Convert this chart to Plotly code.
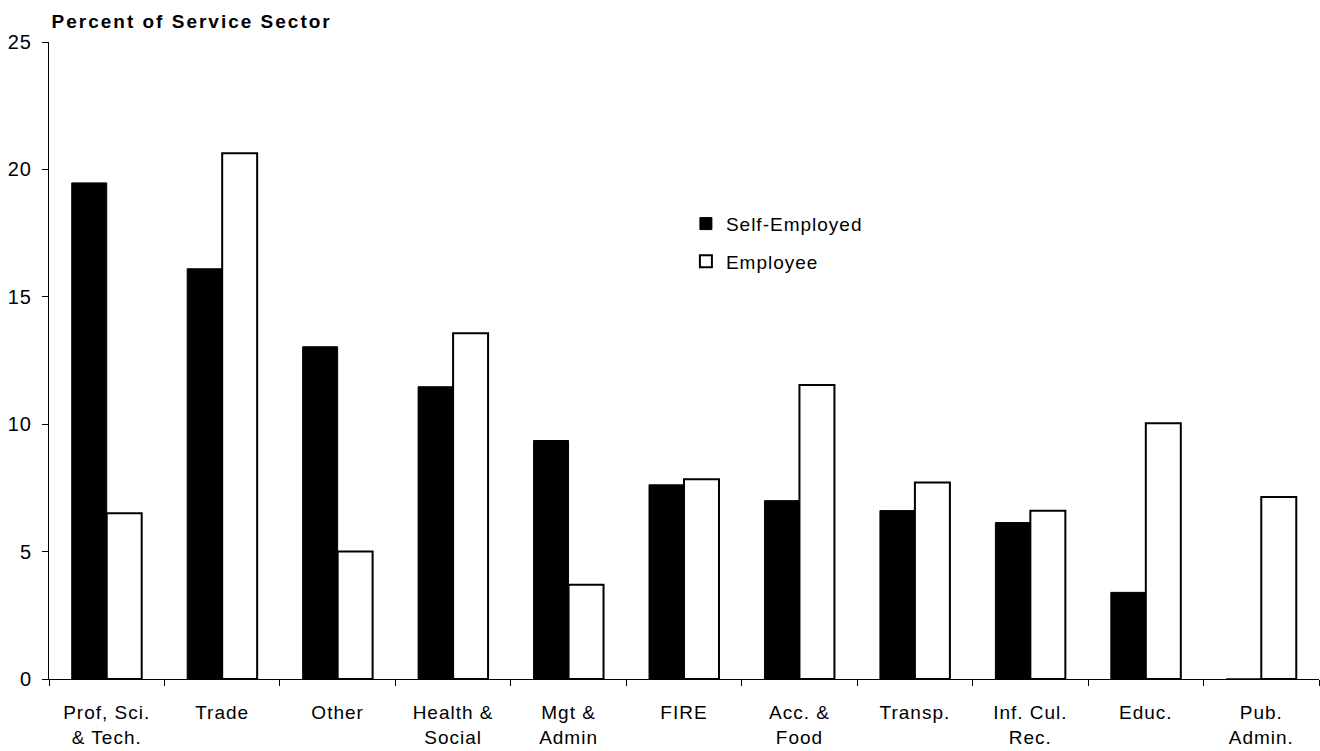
import plotly.graph_objects as go

# Share of service-sector workers by industry
categories = [
    "Prof, Sci.<br>& Tech.", "Trade", "Other", "Health &<br>Social", "Mgt &<br>Admin",
    "FIRE", "Acc. &<br>Food", "Transp.", "Inf. Cul.<br>Rec.", "Educ.", "Pub.<br>Admin.",
]
self_employed = [19.47, 16.10, 13.04, 11.47, 9.36, 7.62, 7.00, 6.61, 6.14, 3.40, 0.0]
employee = [6.51, 20.63, 5.00, 13.57, 3.70, 7.84, 11.54, 7.71, 6.60, 10.04, 7.14]

y_ticks = [0, 5, 10, 15, 20, 25]

FONT = "Liberation Sans, Arial, sans-serif"


def spaced(text, px=1):
    """Wrap each line of a label in a letter-spaced span."""
    return "<br>".join(
        f'<span style="letter-spacing:{px}px">{line}</span>' for line in text.split("<br>")
    )


fig = go.Figure()
fig.add_trace(go.Bar(
    name=spaced("Self-Employed"), x=categories, y=self_employed,
    marker=dict(color="#000000", line=dict(color="#000000", width=1)),
    legendgroup="se",
))
fig.add_trace(go.Bar(
    name=spaced("Employee"), x=categories, y=employee,
    marker=dict(color="#ffffff", line=dict(color="#000000", width=2)),
    legendgroup="emp",
))

fig.update_layout(
    width=1320, height=751,
    margin=dict(l=49, r=1, t=42, b=72, autoexpand=False),
    paper_bgcolor="white", plot_bgcolor="white",
    barmode="group", bargap=0.394, bargroupgap=0,
    font=dict(family=FONT, size=19, color="#000000"),
    title=dict(
        text="<b>" + spaced("Percent of Service Sector", 2) + "</b>",
        font=dict(family=FONT, size=19, color="#000000"),
        xref="paper", x=0.002, xanchor="left",
        yref="container", y=1 - 21 / 751, yanchor="middle",
    ),
    legend=dict(
        x=0.5015, xanchor="left", y=(679 - 204) / 638, yanchor="top",
        bgcolor="rgba(0,0,0,0)", font=dict(family=FONT, size=19),
        tracegroupgap=10, traceorder="grouped",
    ),
    showlegend=True,
)

fig.update_xaxes(
    showline=True, linecolor="#000000", linewidth=1,
    ticks="outside", tickson="boundaries", ticklen=6, tickcolor="#000000",
    tickmode="array", tickvals=categories, ticktext=[spaced(c) for c in categories],
    ticklabelstandoff=16, automargin=False,
    showgrid=False, tickfont=dict(family=FONT, size=19),
)
fig.update_yaxes(
    range=[0, 25], tickvals=y_ticks, ticktext=[spaced(str(v)) for v in y_ticks],
    showline=True, linecolor="#000000", linewidth=1,
    ticks="outside", ticklen=6, tickcolor="#000000", ticklabelstandoff=6,
    automargin=False,
    showgrid=False, zeroline=False, tickfont=dict(family=FONT, size=20),
)

fig.write_html("out.html")
